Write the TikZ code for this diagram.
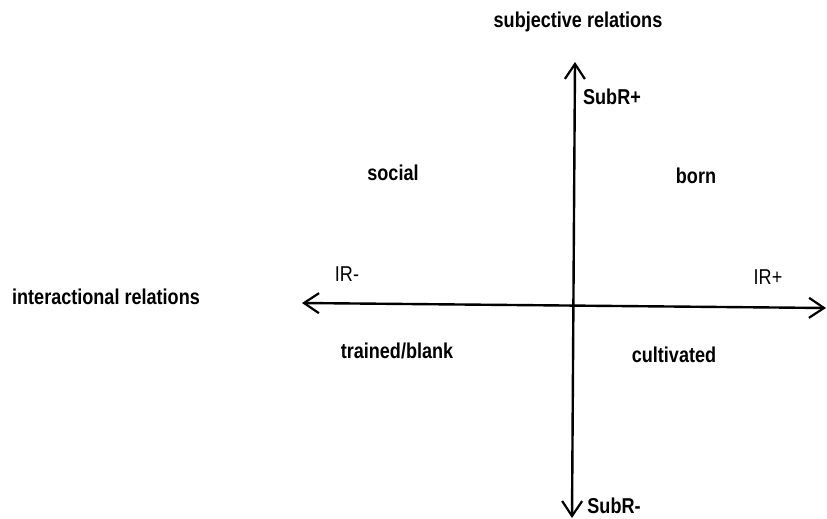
\documentclass[tikz,border=0pt]{standalone}
\usepackage{fontspec}
\setmainfont{Liberation Sans}[FakeStretch=0.84]
\usetikzlibrary{arrows.meta}
\begin{document}
\begin{tikzpicture}[
            x=1pt, y=1pt,
            barb/.tip={Straight Barb[length=15pt,width=20pt,line width=2.2pt]},
            axis/.style={line width=2.4pt, barb-barb},
            title/.style={anchor=base, inner sep=0pt, font=\fontsize{21.5}{24}\selectfont\bfseries},
            quadrant/.style={anchor=base, inner sep=0pt, font=\fontsize{21.5}{24}\selectfont\bfseries},
            pole/.style={anchor=base, inner sep=0pt, font=\fontsize{21.5}{24}\selectfont}
        ]

        % Frame
        \useasboundingbox (0,0) rectangle (827,519);

        % Axis ends
        \coordinate (left) at (302,216);
        \coordinate (right) at (826,211);
        \coordinate (top) at (575,457);
        \coordinate (bottom) at (572,1);

        % Axes
        \draw[axis] (left) -- (right);
        \draw[axis] (bottom) -- (top);

        % Axis titles
        \node[title] (subj) at (578,491) {subjective relations};
        \node[title] (inter) at (106,214) {interactional relations};

        % Poles
        \node[title] (subplus) at (612,414) {SubR+};
        \node[title] (subminus) at (614,5) {SubR-};
        \node[pole] (irminus) at (347,237) {IR-};
        \node[pole] (irplus) at (768,234) {IR+};

        % Quadrants
        \node[quadrant] (social) at (393,338) {social};
        \node[quadrant] (born) at (696,335) {born};
        \node[quadrant] (trained) at (397,160) {trained/blank};
        \node[quadrant] (cultivated) at (674,156) {cultivated};

    \end{tikzpicture}
\end{document}
